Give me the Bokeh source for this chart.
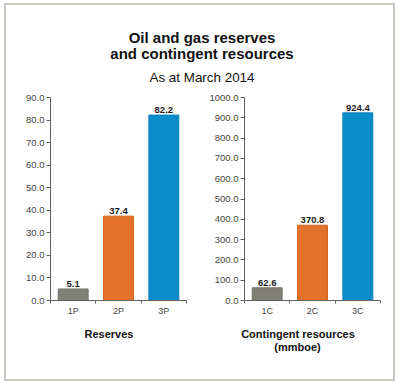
from bokeh.plotting import figure
from bokeh.models import (FactorRange, Range1d, LinearAxis, CategoricalAxis,
                          FixedTicker, NumeralTickFormatter, ColumnDataSource)
from bokeh.layouts import column, row
from bokeh.embed import file_html
from bokeh.resources import INLINE
from bokeh.core.properties import value

# ---- data ----
title_lines = ["Oil and gas reserves", "and contingent resources"]
subtitle = "As at March 2014"

reserve_cats = ["1P", "2P", "3P"]
reserve_vals = [5.1, 37.4, 82.2]
reserve_ticks = [0, 10, 20, 30, 40, 50, 60, 70, 80, 90]
reserve_title = ["Reserves"]

resource_cats = ["1C", "2C", "3C"]
resource_vals = [62.6, 370.8, 924.4]
resource_ticks = [0, 100, 200, 300, 400, 500, 600, 700, 800, 900, 1000]
resource_title = ["Contingent resources", "(mmboe)"]

bar_colors = ["#808076", "#e2722a", "#0a8bca"]
edge_colors = ["#73736a", "#d4651f", "#0a80bd"]

FONT = "Liberation Sans"
AXIS_COL = "#606060"
TICK_COL = "#444444"
W = 387


def text_panel(height, xs, ys, texts, sizes, styles):
    f = figure(width=W, height=height, x_range=Range1d(0, W), y_range=Range1d(0, height),
               min_border=0, toolbar_location=None, output_backend="svg",
               x_axis_location=None, y_axis_location=None, outline_line_color=None)
    f.grid.visible = False
    src = ColumnDataSource(dict(x=xs, y=ys, text=texts, size=sizes, style=styles))
    f.text(x="x", y="y", text="text", source=src, text_font=value(FONT),
           text_font_size="size", text_font_style="style", text_color="#111111",
           text_align="center", text_baseline="alphabetic")
    return f


# ---- title panel ----
top = text_panel(83, [W / 2 + 2] * 3, [51.3, 35.5, 11.3],
                 title_lines + [subtitle], ["15px", "15px", "13.4px"],
                 ["bold", "bold", "normal"])

# ---- axis-title panel ----
bottom_texts = reserve_title + resource_title
bottom = text_panel(61, [102.5, 291.5, 291], [45.7, 45.7, 33],
                    bottom_texts, ["11px"] * 3, ["bold"] * 3)


def make_chart(cats, vals, ticks, width, min_left, min_right):
    p = figure(width=width, height=230, x_range=FactorRange(*cats, range_padding=0),
               y_range=Range1d(0, ticks[-1]), toolbar_location=None,
               output_backend="svg", x_axis_location=None, y_axis_location=None,
               min_border_left=min_left, min_border_right=min_right,
               min_border_top=9, min_border_bottom=16, outline_line_color=None)
    p.grid.visible = False

    src = ColumnDataSource(dict(x=cats, top=vals, color=bar_colors, edge=edge_colors,
                                label=[f"{v:.1f}" for v in vals]))
    p.vbar(x="x", top="top", width=0.66, source=src, fill_color="color",
           line_color="edge", line_width=1)
    p.text(x="x", y="top", text="label", source=src, text_font=value(FONT),
           text_font_size="9.5px", text_font_style="bold", text_color="#1a1a1a",
           text_align="center", text_baseline="alphabetic", y_offset=-5)

    yax = LinearAxis(ticker=FixedTicker(ticks=ticks),
                     formatter=NumeralTickFormatter(format="0.0"))
    yax.axis_line_color = AXIS_COL
    yax.major_tick_line_color = AXIS_COL
    yax.major_tick_out = 4
    yax.major_tick_in = 0
    yax.minor_tick_line_color = None
    yax.major_label_standoff = 2
    yax.major_label_text_font = FONT
    yax.major_label_text_font_size = "9.5px"
    yax.major_label_text_color = TICK_COL
    p.add_layout(yax, "left")

    # category boundary ticks (synthetic coordinates of the factor range)
    edges = list(range(len(cats) + 1))
    eax = LinearAxis(ticker=FixedTicker(ticks=edges),
                     major_label_overrides={i: "" for i in edges})
    eax.axis_line_color = AXIS_COL
    eax.major_tick_line_color = AXIS_COL
    eax.major_tick_out = 3
    eax.major_tick_in = 0
    eax.minor_tick_line_color = None
    eax.major_label_standoff = 0
    eax.major_label_text_font_size = "0px"
    p.add_layout(eax, "below")

    cax = CategoricalAxis()
    cax.axis_line_color = None
    cax.major_tick_line_color = None
    cax.major_tick_out = 0
    cax.major_tick_in = 0
    cax.major_label_standoff = 2
    cax.major_label_text_font = FONT
    cax.major_label_text_font_size = "9px"
    cax.major_label_text_color = TICK_COL
    p.add_layout(cax, "below")
    return p


p1 = make_chart(reserve_cats, reserve_vals, reserve_ticks, 194, 44, 14)
p2 = make_chart(resource_cats, resource_vals, resource_ticks, 193, 44, 13)

layout = column(top, row(p1, p2), bottom, margin=(3, 0, 0, 4),
                styles={"border": "2px solid #c8c8c0"})

open("out.html", "w").write(file_html(layout, INLINE))
